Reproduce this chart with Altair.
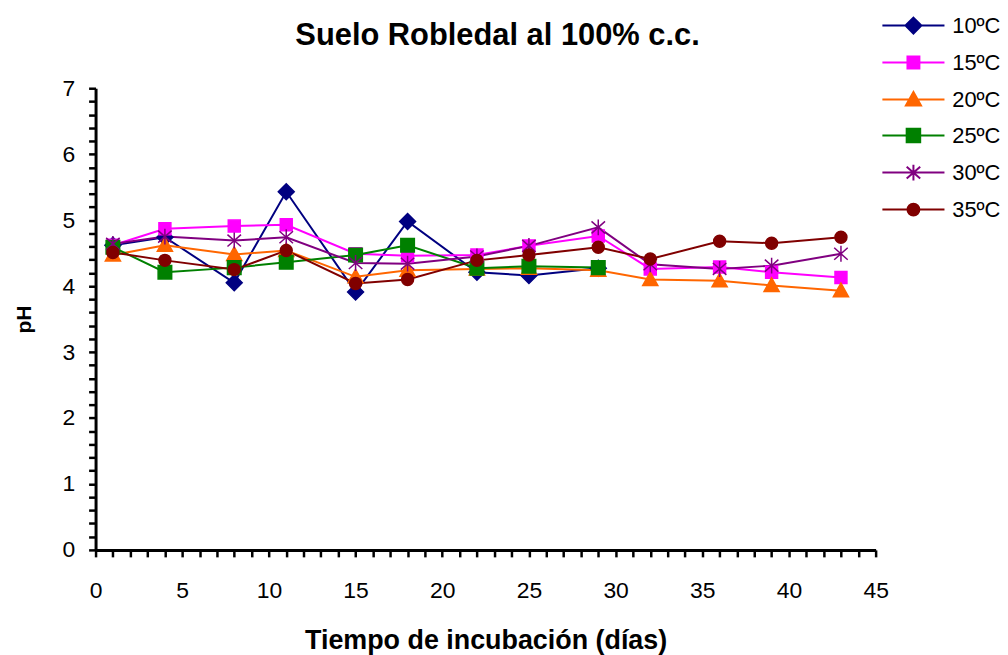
import altair as alt
import pandas as pd

# ---- data ----
days = [1, 4, 8, 11, 15, 18, 22, 25, 29, 32, 36, 39, 43]
series_names = ["10ºC", "15ºC", "20ºC", "25ºC", "30ºC", "35ºC"]
ph_10 = [4.62, 4.74, 4.05, 5.43, 3.91, 4.98, 4.21, 4.16, 4.27]
ph_15 = [4.62, 4.87, 4.91, 4.93, 4.49, 4.46, 4.47, 4.61, 4.76, 4.26, 4.29, 4.21, 4.13]
ph_20 = [4.47, 4.62, 4.48, 4.54, 4.14, 4.24, 4.26, 4.27, 4.24, 4.10, 4.08, 4.01, 3.93]
ph_25 = [4.59, 4.21, 4.28, 4.36, 4.47, 4.62, 4.27, 4.30, 4.28]
ph_30 = [4.64, 4.75, 4.69, 4.74, 4.35, 4.34, 4.45, 4.61, 4.89, 4.33, 4.26, 4.31, 4.49]
ph_35 = [4.51, 4.39, 4.25, 4.54, 4.04, 4.10, 4.39, 4.47, 4.59, 4.41, 4.68, 4.65, 4.74]

x_ticks = list(range(0, 46))
y_ticks = [round(i * 0.2, 1) for i in range(0, 36)]

# ---- styles ----
colors = ["#000080", "#FF00FF", "#FF6600", "#008000", "#800080", "#800000"]
marker_paths = [
    "M0,-1L1,0L0,1L-1,0Z",
    "M-0.75,-0.75L0.75,-0.75L0.75,0.75L-0.75,0.75Z",
    "M0,-0.95L0.95,0.75L-0.95,0.75Z",
    "M-0.85,-0.85L0.85,-0.85L0.85,0.85L-0.85,0.85Z",
    "M0,-1L0,1M-0.85,-0.75L0.85,0.75M-0.85,0.75L0.85,-0.75",
    "M-0.75,0A0.75,0.75,0,1,0,0.75,0A0.75,0.75,0,1,0,-0.75,0Z",
]
legend_line = "M-3.9,0L3.9,0"
legend_paths = [legend_line + p for p in marker_paths]

FONT = "Liberation Sans"

rows = []
for name, vals in zip(series_names, [ph_10, ph_15, ph_20, ph_25, ph_30, ph_35]):
    for d, v in zip(days, vals):
        rows.append({"dia": d, "pH": v, "serie": name})
df = pd.DataFrame(rows)

X = alt.X(
    "dia:Q",
    scale=alt.Scale(domain=[0, 45], nice=False, zero=False),
    axis=alt.Axis(
        values=x_ticks,
        labelExpr="datum.value % 5 === 0 ? format(datum.value, 'd') : ''",
        labelOverlap=False, labelFlush=False,
        tickSize=7, tickWidth=2.5, domainWidth=3,
        labelFontSize=23, labelPadding=23, labelFont=FONT,
        title="Tiempo de incubación (días)", titleFontSize=27, titleFont=FONT,
        titleFontWeight="bold", titlePadding=25, grid=False,
    ),
)
Y = alt.Y(
    "pH:Q",
    scale=alt.Scale(domain=[0, 7], nice=False, zero=False),
    axis=alt.Axis(
        values=y_ticks,
        labelExpr="datum.value % 1 === 0 ? format(datum.value, 'd') : ''",
        labelOverlap=False, labelFlush=False,
        tickSize=7, tickWidth=2.5, domainWidth=3,
        labelFontSize=23, labelPadding=14, labelFont=FONT,
        title="pH", titleFontSize=21, titleFont=FONT,
        titleFontWeight="bold", titlePadding=28, grid=False,
    ),
)

base = alt.Chart(df).encode(x=X, y=Y)

lines = base.mark_line(strokeWidth=2).encode(
    color=alt.Color("serie:N", scale=alt.Scale(domain=series_names, range=colors), legend=None),
    detail="serie:N",
)

points = base.mark_point(filled=True, size=256, strokeWidth=1.5, opacity=1).encode(
    color=alt.Color("serie:N", scale=alt.Scale(domain=series_names, range=colors), legend=None),
    stroke=alt.Stroke("serie:N", scale=alt.Scale(domain=series_names, range=colors), legend=None),
    shape=alt.Shape("serie:N", scale=alt.Scale(domain=series_names, range=marker_paths), legend=None),
)

leg = alt.Legend(
    title=None, orient="none", legendX=811, legendY=-74,
    labelFontSize=22, labelFont=FONT, labelColor="black",
    symbolSize=256, symbolStrokeWidth=2, symbolOpacity=1,
    labelOffset=28, rowPadding=14.2, padding=0,
)

legend_layer = base.transform_filter("false").mark_point(
    filled=True, size=256, strokeWidth=2, opacity=1
).encode(
    color=alt.Color("serie:N", scale=alt.Scale(domain=series_names, range=colors), legend=leg),
    stroke=alt.Stroke("serie:N", scale=alt.Scale(domain=series_names, range=colors), legend=leg),
    shape=alt.Shape("serie:N", scale=alt.Scale(domain=series_names, range=legend_paths), legend=leg),
)

chart = (
    alt.layer(lines, points, legend_layer)
    .resolve_scale(color="independent", stroke="independent", shape="independent")
    .properties(
        width=784, height=464,
        autosize=alt.AutoSizeParams(type="none"),
        padding={"left": 88, "top": 79, "right": 125, "bottom": 104},
        title=alt.Title(
            "Suelo Robledal al 100% c.c.", fontSize=31, font=FONT, fontWeight="bold",
            anchor="middle", dx=12, dy=101, offset=39, baseline="alphabetic", color="black",
        ),
    )
    .configure_view(stroke=None)
    .configure_axis(domainColor="black", tickColor="black", labelColor="black", titleColor="black")
)

chart.save("out.html", embed_options={"renderer": "svg", "actions": False})
